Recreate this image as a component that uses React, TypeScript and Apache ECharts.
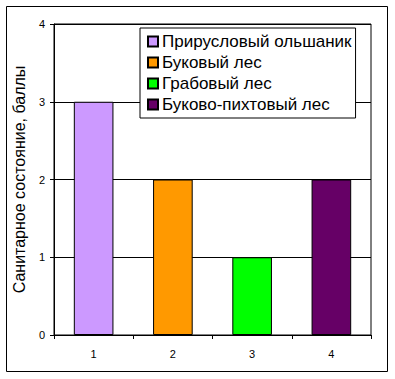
import React, { useEffect, useRef } from "react";
import * as echarts from "echarts";

const categories = ["1", "2", "3", "4"];
const seriesNames = [
  "Прирусловый ольшаник",
  "Буковый лес",
  "Грабовый лес",
  "Буково-пихтовый лес",
];
const seriesValues = [3, 2, 1, 2];
const seriesColors = ["#CC99FF", "#FF9900", "#00FF00", "#660066"];
const yTicks = [0, 1, 2, 3, 4];

export default function App() {
  const ref = useRef<HTMLDivElement>(null);
  useEffect(() => {
    if (!ref.current) return;
    const chart = echarts.init(ref.current, null, { renderer: "svg" });
    const font = "Arial, 'Liberation Sans', sans-serif";
    const series = seriesNames.map((name, i) => ({
      name,
      type: "bar",
      stack: "all",
      barWidth: "50%",
      data: categories.map((_, j) => (j === i ? seriesValues[i] : "-")),
      itemStyle: { color: seriesColors[i], borderColor: "#000", borderWidth: 1 },
    }));
    chart.setOption({
      animation: false,
      backgroundColor: "#fff",
      textStyle: { fontFamily: font },
      graphic: [
        {
          type: "rect",
          shape: { x: 6.5, y: 6.5, width: 381, height: 365 },
          style: { fill: "none", stroke: "#000", lineWidth: 1 },
          silent: true,
          z: -1,
        },
      ],
      grid: { left: 54, top: 24, right: 24, bottom: 44, show: true, borderColor: "#000", borderWidth: 1 },
      legend: {
        orient: "vertical",
        left: 140,
        top: 28,
        backgroundColor: "#fff",
        borderColor: "#000",
        borderWidth: 1,
        padding: [5, 4, 5, 7],
        itemGap: 4,
        itemWidth: 10,
        itemHeight: 10,
        icon: "rect",
        textStyle: { fontSize: 17, color: "#000", fontFamily: font, lineHeight: 14, padding: [0, 0, 0, -1] },
        data: seriesNames,
      },
      xAxis: {
        type: "category",
        data: categories,
        axisLine: { lineStyle: { color: "#000" } },
        axisTick: { show: true, alignWithLabel: false, length: 4, lineStyle: { color: "#000" } },
        axisLabel: { fontSize: 11, color: "#000", margin: 13, fontFamily: font },
      },
      yAxis: {
        type: "value",
        min: yTicks[0],
        max: yTicks[yTicks.length - 1],
        interval: 1,
        name: "Санитарное состояние, баллы",
        nameLocation: "middle",
        nameGap: 27,
        nameTextStyle: { fontSize: 16, color: "#000", fontFamily: font },
        axisLine: { show: true, lineStyle: { color: "#000" } },
        axisTick: { show: true, length: 4, lineStyle: { color: "#000" } },
        axisLabel: { fontSize: 11, color: "#000", margin: 9, fontFamily: font },
        splitLine: { show: true, lineStyle: { color: "#000", width: 1 } },
      },
      series,
    });
    return () => chart.dispose();
  }, []);
  return (
    <div
      ref={ref}
      style={{ position: "fixed", left: 0, top: 0, width: 395, height: 379 }}
    />
  );
}
